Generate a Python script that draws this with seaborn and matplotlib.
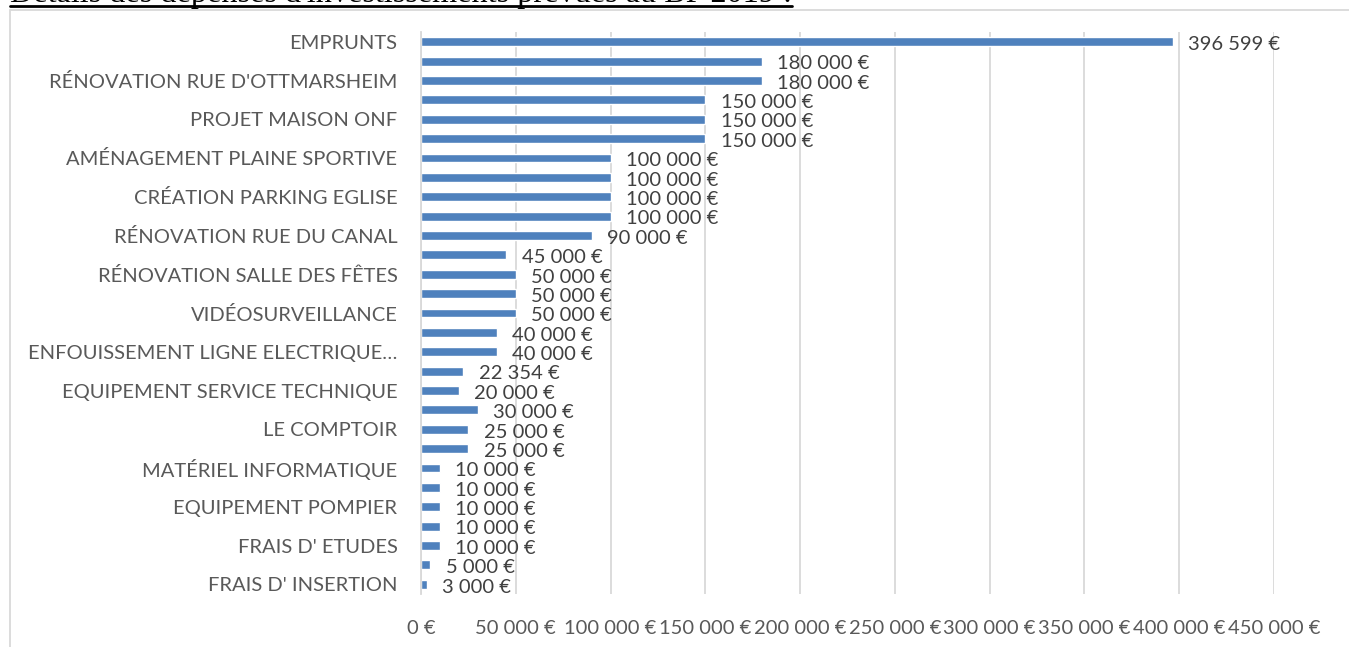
import numpy as np
import pandas as pd
import matplotlib
matplotlib.use("Agg")
import matplotlib.pyplot as plt
import seaborn as sns
from matplotlib.patches import Rectangle
from matplotlib.lines import Line2D

# Data (top to bottom); only every other label is shown
postes = [
    "EMPRUNTS", "",
    "RÉNOVATION RUE D'OTTMARSHEIM", "",
    "PROJET MAISON ONF", "",
    "AMÉNAGEMENT PLAINE SPORTIVE", "",
    "CRÉATION PARKING EGLISE", "",
    "RÉNOVATION RUE DU CANAL", "",
    "RÉNOVATION SALLE DES FÊTES", "",
    "VIDÉOSURVEILLANCE", "",
    "ENFOUISSEMENT LIGNE ELECTRIQUE…", "",
    "EQUIPEMENT SERVICE TECHNIQUE", "",
    "LE COMPTOIR", "",
    "MATÉRIEL INFORMATIQUE", "",
    "EQUIPEMENT POMPIER", "",
    "FRAIS D' ETUDES", "",
    "FRAIS D' INSERTION",
]
montants = [
    396599, 180000, 180000, 150000, 150000, 150000, 100000, 100000,
    100000, 100000, 90000, 45000, 50000, 50000, 50000, 40000, 40000,
    22354, 20000, 30000, 25000, 25000, 10000, 10000, 10000, 10000,
    10000, 5000, 3000,
]
x_ticks = [0, 50000, 100000, 150000, 200000, 250000, 300000, 350000, 400000, 450000]

titre = "Détails des dépenses d'investissements prévues au BP 2019 :"


def euro(v):
    return f"{v:,.0f} €".replace(",", " ")


df = pd.DataFrame({
    "rang": [f"{i:02d}" for i in range(len(montants))],
    "montant": montants,
})

sns.set_theme(style="white")
plt.rcParams["font.family"] = ["Lato", "DejaVu Sans"]

gris = "#595959"
fig = plt.figure(figsize=(13.49, 6.47), dpi=100)
ax = fig.add_axes([421 / 1349, 1 - 594 / 647, (1274 - 421) / 1349, (594 - 32) / 647])

sns.barplot(data=df, x="montant", y="rang", orient="h", color="#4F81BD",
            width=0.46, saturation=1, ax=ax)

ax.set_xlim(0, 450000)
ax.set_ylim(len(montants) - 0.5, -0.5)
ax.set_xticks(x_ticks, labels=[euro(v) for v in x_ticks])
ax.set_yticks(range(len(postes)), labels=postes)
ax.set_xlabel("")
ax.set_ylabel("")
ax.tick_params(axis="both", length=0, colors=gris, labelsize=14.5)
ax.tick_params(axis="x", pad=19)
ax.tick_params(axis="y", pad=17)
ax.grid(axis="x", color="#D9D9D9", linewidth=1.3)
ax.set_axisbelow(True)
for side in ["top", "right", "bottom"]:
    ax.spines[side].set_visible(False)
ax.spines["left"].set_color("#D9D9D9")
ax.spines["left"].set_linewidth(1.3)

# value labels next to each bar
for i, v in enumerate(montants):
    ax.annotate(euro(v), (v, i), xytext=(11, -2), textcoords="offset points",
                va="center", ha="left", fontsize=14.5, color="#404040")

# outer chart frame
fig.patches.append(Rectangle((10 / 1349, -0.1), 1.2, 1 - 10 / 647 + 0.1,
                             transform=fig.transFigure, fill=False,
                             edgecolor="#D9D9D9", linewidth=1.3))

# title clipped at the top, underlined
t = fig.text(10 / 1349, 1 - 2 / 647, titre, family="Liberation Serif",
             fontsize=23.2, color="black", ha="left", va="baseline")
fig.canvas.draw()
bb = t.get_window_extent().transformed(fig.transFigure.inverted())
fig.add_artist(Line2D([bb.x0, bb.x1], [1 - 6 / 647, 1 - 6 / 647],
                      transform=fig.transFigure, color="black", linewidth=2))

fig.savefig("out.png", dpi=100)
